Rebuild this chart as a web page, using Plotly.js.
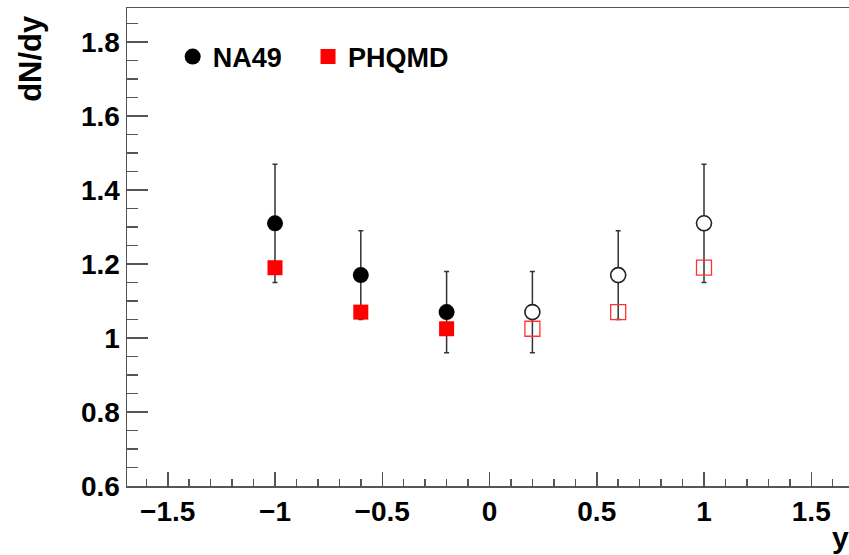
<!DOCTYPE html>
<html>
<head>
<meta charset="utf-8">
<script src="https://cdn.plot.ly/plotly-3.0.1.min.js"></script>
<style>
html,body{margin:0;padding:0;overflow:hidden;background:#fff;}
#chart{width:860px;height:555px;}
</style>
</head>
<body>
<div id="chart"></div>
<script>
// NA49 measured (filled) and reflected (open)
const na49X = [-1.0, -0.6, -0.2];
const na49Y = [1.31, 1.17, 1.07];
const na49Err = [0.16, 0.12, 0.11];
const na49ReflX = [0.2, 0.6, 1.0];
const na49ReflY = [1.07, 1.17, 1.31];
const na49ReflErr = [0.11, 0.12, 0.16];
// PHQMD (filled) and reflected (open)
const phqmdX = [-1.0, -0.6, -0.2];
const phqmdY = [1.19, 1.07, 1.025];
const phqmdReflX = [0.2, 0.6, 1.0];
const phqmdReflY = [1.025, 1.07, 1.19];

const xTickVals = [-1.5, -1, -0.5, 0, 0.5, 1, 1.5];
const yTickVals = [0.6, 0.8, 1.0, 1.2, 1.4, 1.6, 1.8];

const FONT = 'Liberation Sans, Arial, sans-serif';
const errStyle = {type:'data', visible:true, color:'#333', thickness:1.5, width:2.5};
const legendFont = {family:FONT, size:27, weight:'bold', color:'#000'};

const traces = [
  {x:na49X, y:na49Y, type:'scatter', mode:'markers', name:'NA49', legend:'legend',
   error_y:Object.assign({array:na49Err}, errStyle),
   marker:{symbol:'circle', size:16, color:'#000'}},
  {x:na49ReflX, y:na49ReflY, type:'scatter', mode:'markers', name:'NA49 refl', showlegend:false,
   error_y:Object.assign({array:na49ReflErr}, errStyle),
   marker:{symbol:'circle', size:15, color:'#fff', line:{color:'#222', width:1.6}}},
  {x:phqmdX, y:phqmdY, type:'scatter', mode:'markers', name:'PHQMD', legend:'legend2',
   marker:{symbol:'square', size:15, color:'#ff0000'}},
  {x:phqmdReflX, y:phqmdReflY, type:'scatter', mode:'markers', name:'PHQMD refl', showlegend:false,
   marker:{symbol:'square-open', size:15, color:'#f33', line:{color:'#f33', width:1.3}}}
];

const layout = {
  width:860, height:555,
  margin:{l:127, r:8, t:8, b:69},
  paper_bgcolor:'#fff', plot_bgcolor:'#fff',
  font:{family:FONT, color:'#000'},
  showlegend:true,
  legend:{orientation:'h', x:0.063, y:0.8975, yanchor:'middle', xanchor:'left',
          bgcolor:'rgba(0,0,0,0)', font:legendFont, itemsizing:'trace'},
  legend2:{orientation:'h', x:0.2497, y:0.8975, yanchor:'middle', xanchor:'left',
          bgcolor:'rgba(0,0,0,0)', font:legendFont, itemsizing:'trace'},
  xaxis:{range:[-1.69, 1.69], tickvals:xTickVals, showgrid:false, zeroline:false,
         showline:true, linecolor:'#555', linewidth:1.5, mirror:true,
         ticks:'inside', ticklen:14, tickwidth:1.5, tickcolor:'#555',
         minor:{dtick:0.1, ticks:'inside', ticklen:7, tickwidth:1.5, tickcolor:'#555', showgrid:false},
         tickfont:{family:FONT, size:28, weight:'bold', color:'#000'}},
  yaxis:{range:[0.6, 1.892], tickvals:yTickVals, showgrid:false, zeroline:false,
         showline:true, linecolor:'#555', linewidth:1.5, mirror:true,
         ticks:'inside', ticklen:21, tickwidth:1.5, tickcolor:'#555',
         minor:{dtick:0.05, ticks:'inside', ticklen:11, tickwidth:1.5, tickcolor:'#555', showgrid:false},
         tickfont:{family:FONT, size:28, weight:'bold', color:'#000'}},
  annotations:[
    {text:'<b>y</b>', xref:'paper', yref:'paper', x:0.998, y:-0.068, xanchor:'right', yanchor:'top',
     showarrow:false, font:{family:FONT, size:30, color:'#000'}},
    {text:'<b>dN/dy</b>', xref:'paper', yref:'paper', x:-0.133, y:0.99, xanchor:'center', yanchor:'top',
     textangle:-90, showarrow:false, font:{family:FONT, size:31, color:'#000'}}
  ]
};

Plotly.newPlot('chart', traces, layout, {displayModeBar:false, staticPlot:true});
</script>
</body>
</html>
